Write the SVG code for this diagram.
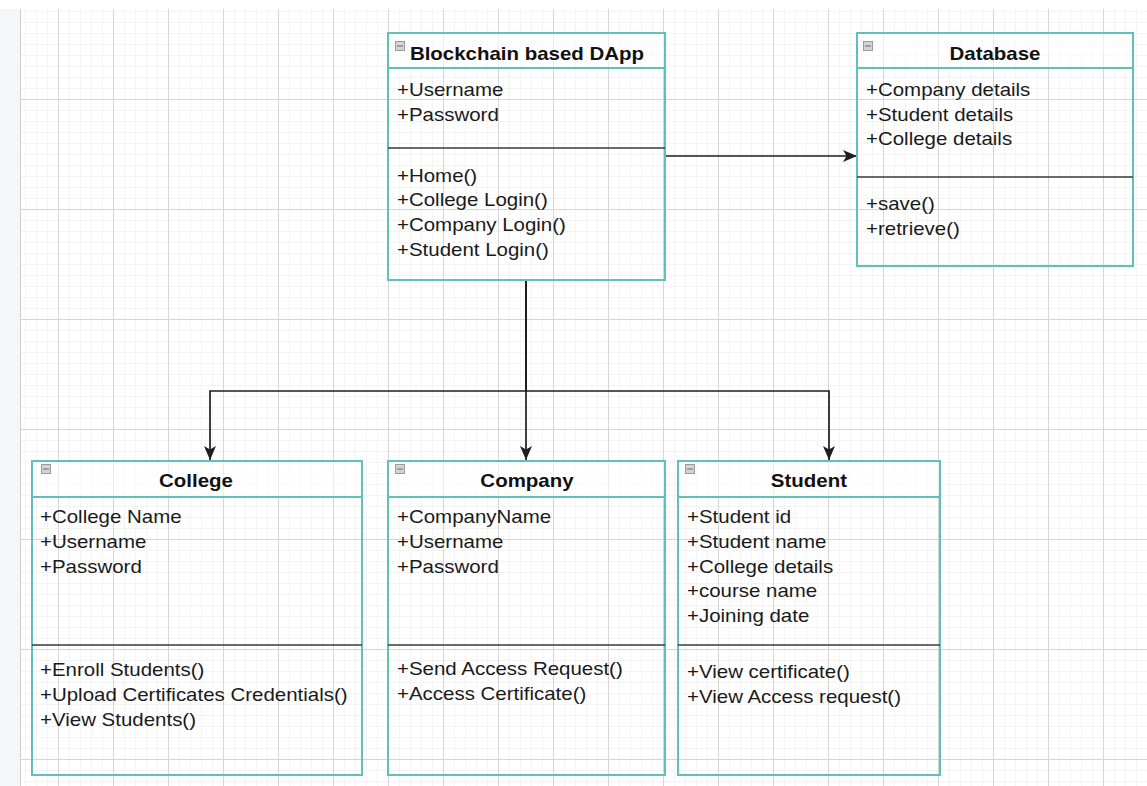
<svg xmlns="http://www.w3.org/2000/svg" width="1147" height="786" viewBox="0 0 1147 786">
  <style>
    .box { fill: none; stroke: #62bfb9; stroke-width: 2; }
    .hdr { fill: #ffffff; fill-opacity: 0.55; stroke: #62bfb9; stroke-width: 2; }
    .sep { stroke: #3a3a3a; stroke-width: 1.4; }
    .icon { fill: #d4d4d4; stroke: #9a9a9a; stroke-width: 1; }
    .icon-bar { stroke: #6a6a6a; stroke-width: 1; }
    .t { font-family: "Liberation Sans", Arial, Helvetica, sans-serif; font-size: 17.5px; fill: #1a1a1a;
         transform-box: fill-box; transform-origin: 0 0; transform: scaleX(1.17); }
    .h { font-weight: bold; text-anchor: middle; transform-origin: 50% 0; fill: #111; }
    .edge { fill: none; stroke: #1e1e1e; stroke-width: 1.7; }
  </style>
  <defs>
    <pattern id="gridMinor" width="11" height="11" patternUnits="userSpaceOnUse" x="3" y="0">
      <path d="M0.5,0 V11 M0,0.5 H11" fill="none" stroke="#f4f4f4" stroke-width="1"/>
    </pattern>
    <pattern id="gridMajorV" width="55" height="786" patternUnits="userSpaceOnUse" x="3" y="0">
      <path d="M0.5,0 V786" fill="none" stroke="#d6d6d6" stroke-width="1"/>
    </pattern>
    <pattern id="gridMajorH" width="1147" height="110" patternUnits="userSpaceOnUse" x="0" y="99">
      <path d="M0,0.5 H1147" fill="none" stroke="#d6d6d6" stroke-width="1"/>
    </pattern>
    <marker id="arrow" viewBox="0 0 14 12" refX="14" refY="6" markerWidth="14" markerHeight="12" markerUnits="userSpaceOnUse" orient="auto">
      <path d="M0,0 L14,6 L0,12 L3.5,6 Z" fill="#1e1e1e"/>
    </marker>
  </defs>

  <!-- canvas with grid -->
  <rect x="0" y="0" width="1147" height="786" fill="#ffffff"/>
  <rect x="0" y="9" width="20" height="777" fill="#f3f7f7"/>
  <rect x="20" y="9" width="1127" height="777" fill="url(#gridMinor)"/>
  <rect x="20" y="9" width="1127" height="777" fill="url(#gridMajorV)"/>
  <rect x="20" y="9" width="1127" height="777" fill="url(#gridMajorH)"/>
  <line x1="20.5" y1="9" x2="20.5" y2="786" stroke="#cfcfcf" stroke-width="1"/>

  <!-- connectors -->
  <g id="connectors">
    <path class="edge" d="M665,156 H857" marker-end="url(#arrow)"/>
    <path class="edge" d="M526,281 V460" marker-end="url(#arrow)"/>
    <path class="edge" d="M526,281 V391 H210 V460" marker-end="url(#arrow)"/>
    <path class="edge" d="M526,281 V391 H829 V460" marker-end="url(#arrow)"/>
  </g>

  <!-- Blockchain based DApp -->
  <g id="dapp">
    <rect class="hdr" x="388" y="33" width="277" height="35"/>
    <rect class="box" x="388" y="33" width="277" height="247"/>
    <line class="sep" x1="388" y1="148" x2="665" y2="148"/>
    <rect class="icon" x="395.5" y="41.5" width="9" height="9"/>
    <line class="icon-bar" x1="397" y1="46" x2="403" y2="46"/>
    <text class="t h" x="527" y="60">Blockchain based DApp</text>
    <text class="t" x="397" y="96">+Username</text>
    <text class="t" x="397" y="121">+Password</text>
    <text class="t" x="397" y="182">+Home()</text>
    <text class="t" x="397" y="206.5">+College Login()</text>
    <text class="t" x="397" y="231.5">+Company Login()</text>
    <text class="t" x="397" y="256">+Student Login()</text>
  </g>

  <!-- Database -->
  <g id="database">
    <rect class="hdr" x="857" y="33" width="276" height="35"/>
    <rect class="box" x="857" y="33" width="276" height="233"/>
    <line class="sep" x1="857" y1="177" x2="1133" y2="177"/>
    <rect class="icon" x="863.5" y="41.5" width="9" height="9"/>
    <line class="icon-bar" x1="865" y1="46" x2="871" y2="46"/>
    <text class="t h" x="995" y="60">Database</text>
    <text class="t" x="866" y="96">+Company details</text>
    <text class="t" x="866" y="121">+Student details</text>
    <text class="t" x="866" y="145.5">+College details</text>
    <text class="t" x="866" y="210">+save()</text>
    <text class="t" x="866" y="235">+retrieve()</text>
  </g>

  <!-- College -->
  <g id="college">
    <rect class="hdr" x="32" y="461" width="330" height="36"/>
    <rect class="box" x="32" y="461" width="330" height="314"/>
    <line class="sep" x1="32" y1="645" x2="362" y2="645"/>
    <rect class="icon" x="41.5" y="464.5" width="9" height="9"/>
    <line class="icon-bar" x1="43" y1="469" x2="49" y2="469"/>
    <text class="t h" x="196" y="487">College</text>
    <text class="t" x="40" y="523">+College Name</text>
    <text class="t" x="40" y="548">+Username</text>
    <text class="t" x="40" y="573">+Password</text>
    <text class="t" x="40" y="676">+Enroll Students()</text>
    <text class="t" x="40" y="701">+Upload Certificates Credentials()</text>
    <text class="t" x="40" y="726">+View Students()</text>
  </g>

  <!-- Company -->
  <g id="company">
    <rect class="hdr" x="388" y="461" width="277" height="36"/>
    <rect class="box" x="388" y="461" width="277" height="314"/>
    <line class="sep" x1="388" y1="645" x2="665" y2="645"/>
    <rect class="icon" x="395.5" y="464.5" width="9" height="9"/>
    <line class="icon-bar" x1="397" y1="469" x2="403" y2="469"/>
    <text class="t h" x="527" y="487">Company</text>
    <text class="t" x="397" y="523">+CompanyName</text>
    <text class="t" x="397" y="548">+Username</text>
    <text class="t" x="397" y="573">+Password</text>
    <text class="t" x="397" y="675">+Send Access Request()</text>
    <text class="t" x="397" y="700">+Access Certificate()</text>
  </g>

  <!-- Student -->
  <g id="student">
    <rect class="hdr" x="678" y="461" width="262" height="36"/>
    <rect class="box" x="678" y="461" width="262" height="314"/>
    <line class="sep" x1="678" y1="645" x2="940" y2="645"/>
    <rect class="icon" x="685.5" y="464.5" width="9" height="9"/>
    <line class="icon-bar" x1="687" y1="469" x2="693" y2="469"/>
    <text class="t h" x="809" y="487">Student</text>
    <text class="t" x="687" y="523">+Student id</text>
    <text class="t" x="687" y="548">+Student name</text>
    <text class="t" x="687" y="573">+College details</text>
    <text class="t" x="687" y="597.5">+course name</text>
    <text class="t" x="687" y="622">+Joining date</text>
    <text class="t" x="687" y="678">+View certificate()</text>
    <text class="t" x="687" y="703">+View Access request()</text>
  </g>
</svg>
